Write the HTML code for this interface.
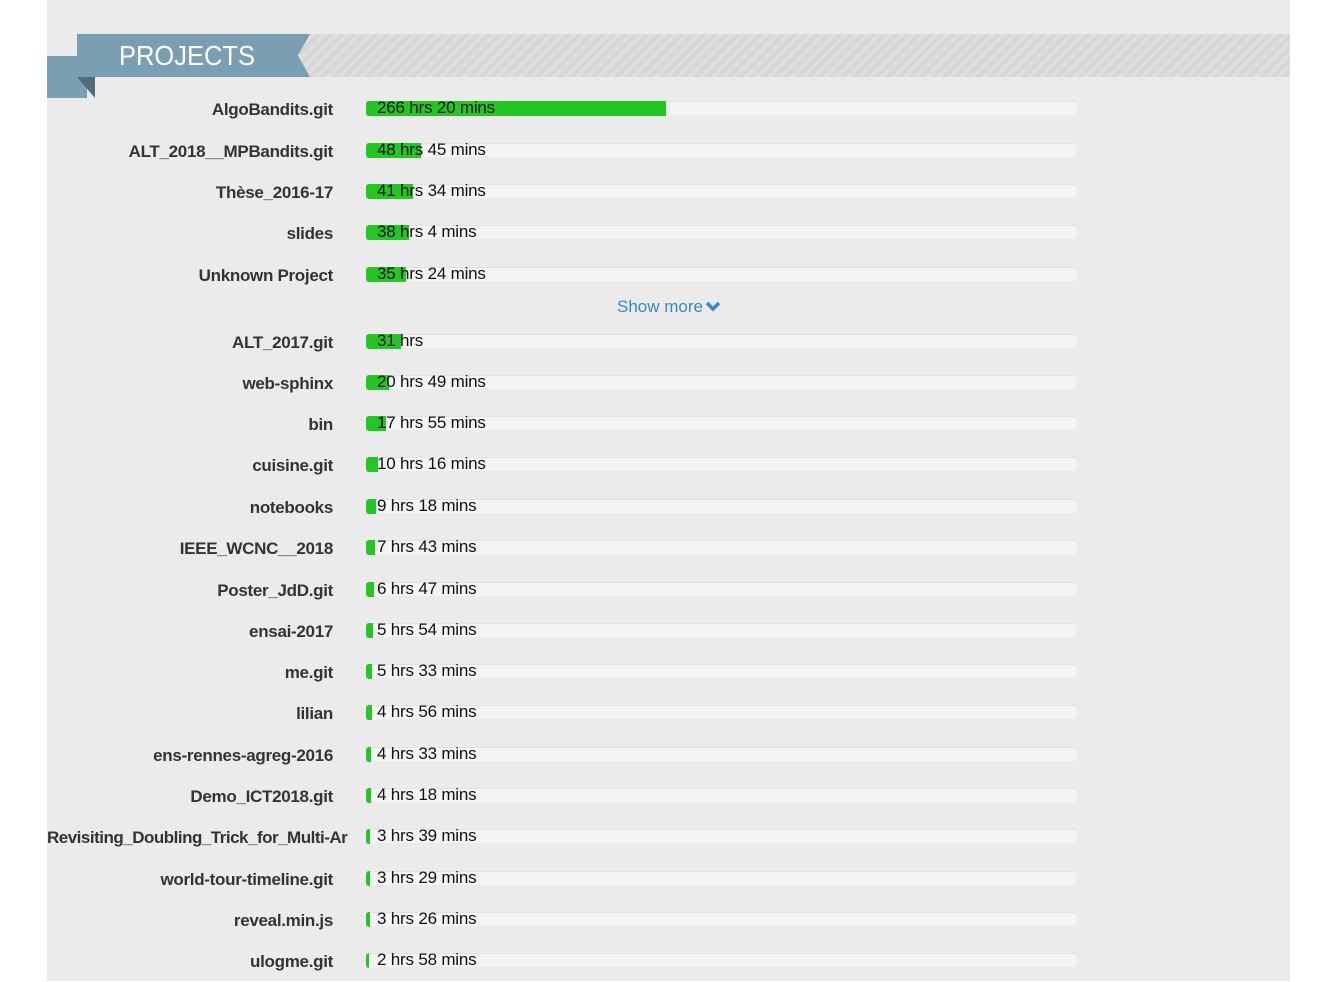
<!DOCTYPE html>
<html><head><meta charset="utf-8"><style>
body{margin:0;width:1327px;height:982px;background:#fff;position:relative;overflow:hidden;font-family:"Liberation Sans",sans-serif}
#panel{position:absolute;left:47px;top:0;width:1243px;height:981px;background:#ebebeb}
.stripe{position:absolute;left:300px;top:34px;width:990px;height:43px;background:repeating-linear-gradient(135deg,#dedede 0 4px,#d6d6d6 4px 8px)}
.lab{position:absolute;left:47px;width:286px;text-align:right;font-size:17px;font-weight:bold;color:#333;white-space:nowrap;letter-spacing:-0.3px}
.track{position:absolute;left:367px;width:710px;height:13px;background:#f4f4f4;border-radius:3px;box-shadow:0 -1px 0 #e2e2e2}
.bar{position:absolute;left:366px;height:15px;background:#22c722;border-radius:3px 0 0 3px}
.val{position:absolute;left:377px;font-size:17px;color:#111;white-space:nowrap;letter-spacing:-0.2px}
</style></head><body>
<div id="panel"></div>
<div class="stripe"></div>
<svg style="position:absolute;left:0;top:0" width="330" height="100">
<rect x="47" y="56" width="40" height="42" fill="#7a9fb3"/>
<polygon points="77,77 95,77 95,98" fill="#4f6c7d"/>
<polygon points="77,34 310,34 298,55.5 310,77 77,77" fill="#7a9fb3"/>
<text x="119" y="65" font-family="Liberation Sans,sans-serif" font-size="28" fill="#fff" textLength="136" lengthAdjust="spacingAndGlyphs">PROJECTS</text>
</svg>
<div id="rows"></div>
<div style="position:absolute;left:617px;top:297px;font-size:17px;color:#3a87c8">Show more<svg width="16" height="12" style="margin-left:2px"><polyline points="2,3 8,9 14,3" fill="none" stroke="#3a87c8" stroke-width="3.5"/></svg></div>
<script>
var d=[["AlgoBandits.git",266.33,"266 hrs 20 mins",108],["ALT_2018__MPBandits.git",48.75,"48 hrs 45 mins",150],["Thèse_2016-17",41.57,"41 hrs 34 mins",191],["slides",38.07,"38 hrs 4 mins",232],["Unknown Project",35.4,"35 hrs 24 mins",274],
["ALT_2017.git",31,"31 hrs",341],["web-sphinx",20.8,"20 hrs 49 mins",382],["bin",17.9,"17 hrs 55 mins",423],["cuisine.git",10.3,"10 hrs 16 mins",464],["notebooks",9.3,"9 hrs 18 mins",506],["IEEE_WCNC__2018",7.7,"7 hrs 43 mins",547],["Poster_JdD.git",6.8,"6 hrs 47 mins",589],["ensai-2017",5.9,"5 hrs 54 mins",630],["me.git",5.55,"5 hrs 33 mins",671],["lilian",4.9,"4 hrs 56 mins",712],["ens-rennes-agreg-2016",4.55,"4 hrs 33 mins",754],["Demo_ICT2018.git",4.3,"4 hrs 18 mins",795],["Revisiting_Doubling_Trick_for_Multi-Ar",3.65,"3 hrs 39 mins",836],["world-tour-timeline.git",3.5,"3 hrs 29 mins",878],["reveal.min.js",3.4,"3 hrs 26 mins",919],["ulogme.git",2.97,"2 hrs 58 mins",960]];
var h="";d.forEach(function(r){var c=r[3];var w=Math.max(3,Math.round(r[1]*1.127));
var lab=r[0].length>30?'<div class="lab" style="top:'+(c-8)+'px;text-align:left;width:302px;letter-spacing:-0.5px">'+r[0]+'</div>':'<div class="lab" style="top:'+(c-8)+'px">'+r[0]+'</div>';
h+=lab+'<div class="track" style="top:'+(c-6)+'px"></div><div class="bar" style="top:'+(c-7)+'px;width:'+w+'px"></div><div class="val" style="top:'+(c-10)+'px">'+r[2]+'</div>';});
document.getElementById("rows").innerHTML=h;
</script>
</body></html>
